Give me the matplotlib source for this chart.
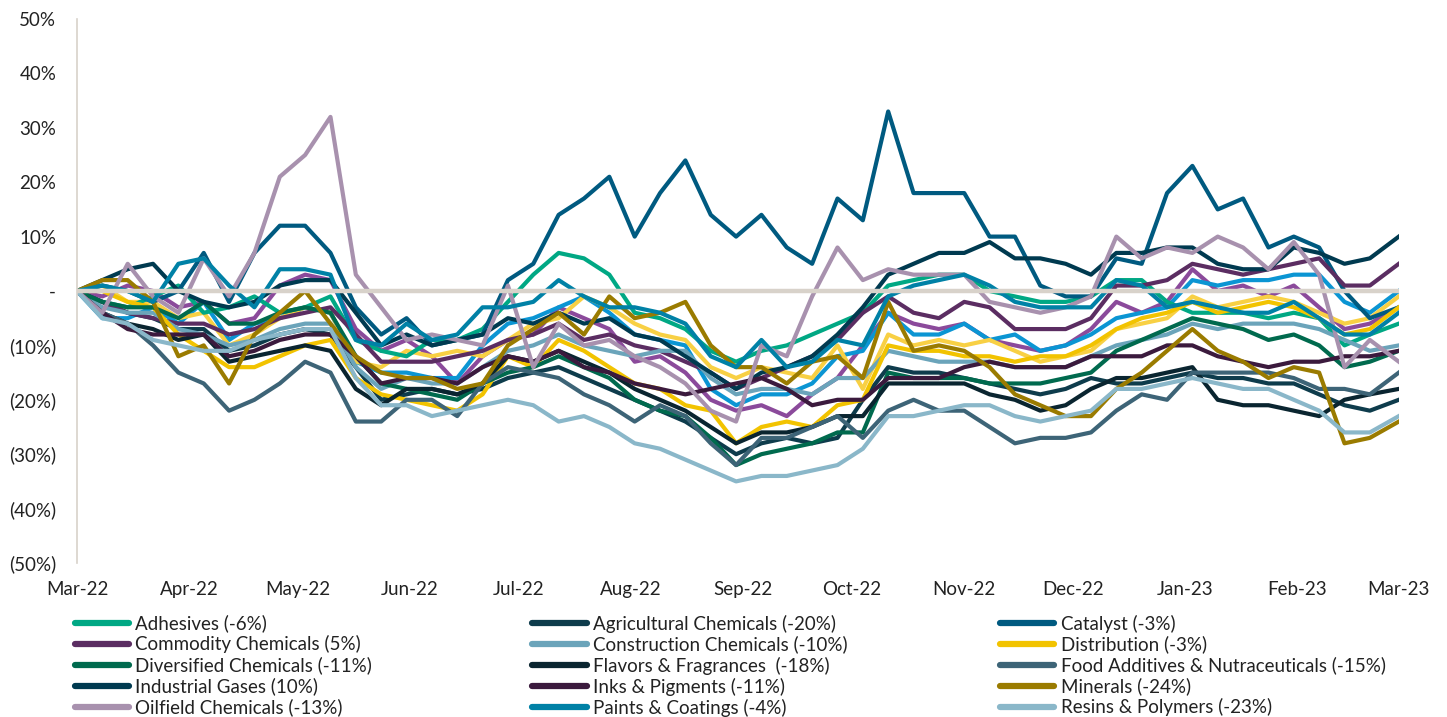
import matplotlib
matplotlib.use("Agg")
import matplotlib.pyplot as plt
import matplotlib.dates as mdates
from matplotlib.lines import Line2D
from matplotlib.ticker import FuncFormatter
import pandas as pd

# ──────────────────────────────────────────────────────────────
# Data: cumulative share-price change (%), sampled weekly, read off the chart
# ──────────────────────────────────────────────────────────────
dates = list(pd.date_range("2022-03-01", periods=52, freq="7D")) + [pd.Timestamp("2023-03-01")]

adhesives = [0, -2, -3, -1, 1, -4, -3, -1, -4, -3, -1, -9, -11, -12, -9, -9, -7, -2, 3, 7,
             6, 3, -4, -5, -7, -11, -13, -11, -10, -8, -6, -4, 1, 2, 3, 3, 0, -1, -2, -2,
             -1, 2, 2, -2, -4, -4, -4, -5, -4, -5, -10, -8, -6]
agricultural = [0, -2, -4, -5, -7, -7, -11, -10, -8, -7, -8, -14, -20, -19, -18, -19, -18, -16, -15, -14,
                -16, -18, -20, -22, -24, -27, -30, -28, -27, -28, -27, -20, -14, -15, -15, -16, -17, -18, -19, -18,
                -16, -17, -17, -16, -15, -16, -16, -17, -17, -19, -21, -22, -20]
catalyst = [0, 1, 0, -2, 0, 7, -2, 7, 12, 12, 7, -3, -8, -5, -10, -9, -8, 2, 5, 14,
            17, 21, 10, 18, 24, 14, 10, 14, 8, 5, 17, 13, 33, 18, 18, 18, 10, 10, 1, -1,
            -1, 6, 5, 18, 23, 15, 17, 8, 10, 8, 0, -5, -3]
commodity = [0, -2, -4, -5, -6, -6, -8, -7, -5, -4, -3, -8, -13, -13, -13, -12, -11, -9, -8, -6,
             -9, -8, -10, -11, -13, -15, -18, -16, -14, -12, -9, -4, -1, -4, -5, -2, -3, -7, -7, -7,
             -5, 1, 1, 2, 5, 4, 3, 4, 5, 6, 1, 1, 5]
construction = [0, -3, -4, -4, -7, -8, -10, -9, -7, -6, -6, -14, -18, -16, -17, -17, -14, -11, -10, -8,
                -10, -11, -12, -11, -11, -16, -19, -18, -18, -19, -16, -16, -11, -12, -13, -13, -13, -14, -14, -14,
                -12, -10, -9, -8, -6, -7, -6, -6, -6, -7, -9, -11, -10]
distribution = [0, 0, -2, -3, -8, -11, -14, -14, -12, -10, -9, -16, -19, -20, -21, -22, -19, -12, -14, -9,
                -11, -14, -17, -18, -21, -22, -28, -25, -24, -25, -21, -20, -10, -11, -11, -12, -12, -13, -12, -12,
                -10, -7, -5, -4, -2, -4, -3, -2, -3, -5, -8, -7, -3]
diversified = [0, -2, -3, -3, -5, -2, -6, -6, -4, -3, -4, -12, -17, -18, -19, -20, -17, -15, -14, -12,
               -14, -16, -20, -22, -23, -27, -32, -30, -29, -28, -26, -26, -15, -16, -16, -16, -17, -17, -17, -16,
               -15, -11, -9, -7, -5, -6, -7, -9, -8, -10, -14, -13, -11]
flavors = [0, -4, -6, -7, -9, -8, -13, -12, -11, -10, -11, -18, -21, -18, -18, -19, -17, -12, -13, -11,
           -13, -15, -18, -20, -22, -25, -28, -26, -26, -25, -23, -23, -17, -17, -17, -17, -19, -20, -22, -21,
           -18, -16, -16, -15, -14, -20, -21, -21, -22, -23, -20, -19, -18]
food_additives = [0, -4, -6, -10, -15, -17, -22, -20, -17, -13, -15, -24, -24, -20, -20, -23, -17, -14, -15, -16,
                  -19, -21, -24, -21, -23, -28, -32, -27, -27, -25, -23, -27, -22, -20, -22, -22, -25, -28, -27, -27,
                  -26, -22, -19, -20, -15, -15, -15, -15, -16, -18, -18, -19, -15]
industrial_gases = [0, 2, 4, 5, 0, -2, -3, -2, 1, 2, 2, -4, -10, -8, -10, -9, -8, -5, -6, -4,
                    -6, -5, -8, -9, -12, -15, -18, -15, -14, -12, -8, -3, 3, 5, 7, 7, 9, 6, 6, 5,
                    3, 7, 7, 8, 8, 5, 4, 4, 8, 7, 5, 6, 10]
inks = [0, -4, -7, -8, -8, -8, -12, -11, -9, -8, -8, -12, -17, -16, -16, -17, -14, -12, -13, -11,
        -14, -15, -17, -18, -19, -18, -17, -16, -18, -21, -20, -20, -16, -16, -16, -14, -13, -14, -14, -14,
        -12, -12, -12, -10, -10, -12, -13, -14, -13, -13, -12, -12, -11]
minerals = [0, 2, 2, -2, -12, -10, -17, -8, -4, 0, -6, -12, -15, -16, -16, -18, -17, -10, -7, -4,
            -8, -1, -5, -4, -2, -10, -14, -14, -17, -13, -12, -16, -2, -11, -10, -11, -14, -19, -21, -23,
            -23, -18, -15, -11, -7, -11, -13, -16, -14, -15, -28, -27, -24]
oilfield = [0, -4, 5, -1, -4, 6, -1, 7, 21, 25, 32, 3, -3, -9, -8, -9, -10, 1, -14, -6,
            -10, -9, -12, -14, -17, -22, -24, -10, -12, -1, 8, 2, 4, 3, 3, 3, -2, -3, -4, -3,
            -1, 10, 6, 8, 7, 10, 8, 4, 9, 3, -14, -9, -13]
paints = [0, 1, 0, -2, 5, 6, 1, -3, 4, 4, 3, -9, -10, -6, -9, -8, -3, -3, -2, 2,
          -1, -3, -3, -4, -6, -12, -14, -9, -14, -13, -9, -10, -1, 1, 2, 3, 1, -2, -3, -3,
          -3, 2, 1, -3, -2, -3, -4, -4, -2, -5, -8, -8, -4]
resins = [0, -5, -6, -9, -10, -11, -11, -9, -8, -7, -7, -16, -21, -21, -23, -22, -21, -20, -21, -24,
          -23, -25, -28, -29, -31, -33, -35, -34, -34, -33, -32, -29, -23, -23, -22, -21, -21, -23, -24, -23,
          -22, -18, -18, -17, -16, -17, -18, -18, -20, -22, -26, -26, -23]

# three more lines are drawn in the chart but their legend row is cut off
unlisted_purple = [0, -1, 1, 0, -3, -2, -6, -5, 1, 3, 2, -7, -11, -9, -12, -17, -12, -9, -8, -3,
                   -5, -7, -13, -12, -15, -20, -22, -21, -23, -19, -16, -10, -4, -6, -7, -6, -9, -10, -11, -10,
                   -7, -2, -4, -2, 4, 0, 1, -1, 1, -3, -7, -6, -3]
unlisted_blue = [0, -5, -5, -3, -6, -2, -9, -6, -5, -3, -4, -13, -15, -15, -16, -16, -10, -6, -5, -3,
                 -1, -4, -8, -9, -10, -18, -21, -19, -19, -17, -12, -11, -4, -8, -8, -6, -9, -8, -11, -10,
                 -8, -5, -4, -3, 2, 1, 2, 2, 3, 3, -2, -4, 0]
unlisted_yellow = [0, 1, -2, -2, -5, -4, -10, -8, -5, -3, -4, -13, -14, -11, -12, -11, -12, -9, -6, -5,
                   -1, -3, -6, -8, -9, -14, -16, -14, -15, -16, -10, -18, -8, -10, -9, -10, -9, -11, -13, -12,
                   -11, -7, -6, -5, -1, -3, -2, -1, -2, -4, -6, -5, -1]

labels = [
    "Adhesives (-6%)", "Agricultural Chemicals (-20%)", "Catalyst (-3%)",
    "Commodity Chemicals (5%)", "Construction Chemicals (-10%)", "Distribution (-3%)",
    "Diversified Chemicals (-11%)", "Flavors & Fragrances  (-18%)", "Food Additives & Nutraceuticals (-15%)",
    "Industrial Gases (10%)", "Inks & Pigments (-11%)", "Minerals (-24%)",
    "Oilfield Chemicals (-13%)", "Paints & Coatings (-4%)", "Resins & Polymers (-23%)",
]
series = [
    adhesives, agricultural, catalyst, commodity, construction, distribution,
    diversified, flavors, food_additives, industrial_gases, inks, minerals,
    oilfield, paints, resins,
]
colors = [
    "#00a884", "#0e3c4c", "#005a80", "#5b2d62", "#6ba4ba", "#f2c300",
    "#006a4e", "#0a2530", "#3d6477", "#003a50", "#3b1a3d", "#9a7b00",
    "#a891ae", "#0081a6", "#8ab7c9",
]
extra_series = [unlisted_purple, unlisted_blue, unlisted_yellow]
extra_colors = ["#8b4a9b", "#0b95d3", "#f8d044"]

# ──────────────────────────────────────────────────────────────
# Style
# ──────────────────────────────────────────────────────────────
_FONT      = "Lato"
_TEXT_COL  = "#222222"
_ZERO_COL  = "#d8d2ca"
_LW        = 3.0


def _pct_label(v, _pos):
    if abs(v) < 1e-9:
        return "-"
    if v < 0:
        return f"({abs(v):.0f}%)"
    return f"{v:.0f}%"


plt.rcParams["font.family"] = [_FONT, "DejaVu Sans"]

fig = plt.figure(figsize=(14.47, 7.17), dpi=100)
ax = fig.add_axes([0.0532, 0.2148, 0.9135, 0.7587])

# unlisted lines first, then the legend series in legend order
for vals, col in zip(extra_series, extra_colors):
    ax.plot(dates, vals, color=col, lw=_LW, solid_joinstyle="round", zorder=2)
for vals, col in zip(series, colors):
    ax.plot(dates, vals, color=col, lw=_LW, solid_joinstyle="round", zorder=2)

ax.axhline(0, color=_ZERO_COL, lw=3.2, zorder=5)

ax.set_ylim(-50, 50)
ax.set_yticks(range(-50, 51, 10))
ax.yaxis.set_major_formatter(FuncFormatter(_pct_label))
ax.set_xlim(pd.Timestamp("2022-03-01"), pd.Timestamp("2023-03-01"))
ax.xaxis.set_major_locator(mdates.MonthLocator())
ax.xaxis.set_major_formatter(mdates.DateFormatter("%b-%y"))

ax.tick_params(axis="both", length=0, labelsize=13.5, colors=_TEXT_COL)
ax.tick_params(axis="y", pad=15)
ax.tick_params(axis="x", pad=13)
for side in ("top", "right", "bottom"):
    ax.spines[side].set_visible(False)
ax.spines["left"].set_color(_ZERO_COL)
ax.spines["left"].set_linewidth(1.2)

# legend: three separate columns, entries filled row by row
col_x = [0.0515, 0.368, 0.691]
for c in range(3):
    handles = [Line2D([], [], color=colors[i], lw=4.5, solid_capstyle="round")
               for i in range(c, len(labels), 3)]
    leg = fig.legend(handles, labels[c::3], loc="upper left",
                     bbox_to_anchor=(col_x[c], 0.143), frameon=False,
                     fontsize=13.5, handlelength=2.9, handletextpad=0.35,
                     labelspacing=0.16, borderpad=0, borderaxespad=0)
    for t in leg.get_texts():
        t.set_color(_TEXT_COL)

fig.savefig("out.png", dpi=100, facecolor="white")
plt.close(fig)
